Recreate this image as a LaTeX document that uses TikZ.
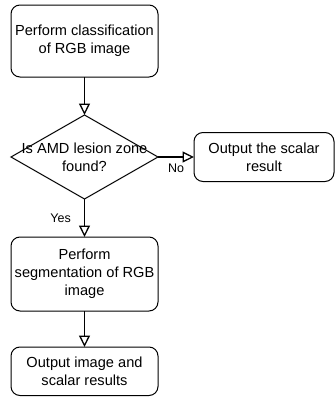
\documentclass[tikz,border=0pt]{standalone}
\usepackage{fontspec}
\setmainfont{Liberation Sans}
\usetikzlibrary{positioning}
\usetikzlibrary{arrows.meta}
\usetikzlibrary{shapes.geometric}
\tikzset{
every picture/.style={line width=1pt},
stepnode/.style={rectangle, rounded corners=9pt, draw=black, outer sep=0pt, align=center, minimum width=147pt, font=\fontsize{14.6}{18}\selectfont},
sidenode/.style={stepnode, minimum width=140pt},
decisionnode/.style={diamond, draw=black, outer sep=0pt, minimum width=147pt, minimum height=84pt, inner sep=0pt},
flowarrow/.style={line width=1.3pt, -{Triangle[open, length=11.5pt, width=11pt]}},
answer/.style={font=\fontsize{12.5}{15}\selectfont, inner sep=1pt}
}

\begin{document}
\begin{tikzpicture}[node distance=38pt and 36pt]
\useasboundingbox (0,0) rectangle (335pt,-397pt);
%Nodes
\node [stepnode, minimum height=72pt] (classify) at (84.5pt,-41pt) {Perform classification\\of RGB image};
\node [decisionnode] (found) [below= of classify] {};
\node [align=center, font=\fontsize{14.6}{18}\selectfont] (foundtext) at (found.center) {Is AMD lesion zone\\found?};
\node [sidenode, minimum height=49pt] (scalar) [right= of found] {Output the scalar\\result};
\node [stepnode, minimum height=74pt] (segment) [below= of found] {Perform\\segmentation of RGB\\image};
\node [stepnode, minimum height=48.5pt] (output) [below=36pt of segment] {Output image and\\scalar results};

%Lines
\draw [flowarrow] (classify.south) -- (found.north);
\draw [flowarrow] (found.east) -- node[answer, below=5pt]{No} (scalar.west);
\draw [flowarrow] (found.south) -- node[answer, left=12pt]{Yes} (segment.north);
\draw [flowarrow] (segment.south) -- (output.north);

\end{tikzpicture}
\end{document}
